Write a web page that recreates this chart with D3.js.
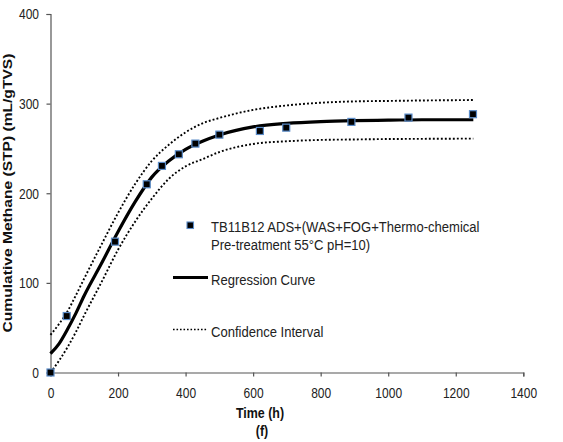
<!DOCTYPE html>
<html>
<head>
<meta charset="utf-8">
<script src="https://cdn.jsdelivr.net/npm/d3@7/dist/d3.min.js"></script>
<style>
  html, body { margin: 0; padding: 0; background: #fff; }
  svg { display: block; }
  text { font-family: 'Liberation Sans', Arial, sans-serif; }
</style>
</head>
<body>
<svg id="chart" width="563" height="442"></svg>
<script>
// Measured cumulative methane (mL/gTVS) against time (h)
const obsTime = [0, 48, 191, 285, 330, 380, 429, 500, 620, 698, 891, 1060, 1251];
const obsMethane = [0, 63, 146, 210, 230.5, 243.5, 255.4, 265.4, 269.5, 273.2, 279.6, 284.4, 288.2];

// Fitted regression curve and its confidence band, sampled along time
const fitTime  = [0, 25, 50, 75, 100, 150, 200, 250, 300, 350, 400, 450, 500, 600, 700, 800, 900, 1000, 1100, 1252];
const fitCurve = [21, 32, 48, 66, 86, 121, 157, 190, 218, 236, 249, 258, 265, 274, 278, 280, 281, 281.5, 282, 282];
const fitUpper = [42, 54, 68, 86, 105, 142, 178, 210, 236, 254, 268, 278, 284, 293, 298, 301, 302.5, 303, 303.5, 304];
const fitLower = [0, 13, 28, 45, 64, 100, 137, 168, 194, 216, 230, 238, 246, 255, 258, 259.5, 260, 260.5, 260.7, 261];

const xTicks = [0, 200, 400, 600, 800, 1000, 1200, 1400];
const yTicks = [0, 100, 200, 300, 400];

const legendLabels = [
  ["TB11B12 ADS+(WAS+FOG+Thermo-chemical", "Pre-treatment 55°C pH=10)"],
  ["Regression Curve"],
  ["Confidence Interval"]
];

const svg = d3.select("#chart");
const x = d3.scaleLinear().domain([0, 1400]).range([50.5, 523.3]);
const y = d3.scaleLinear().domain([0, 400]).range([372.5, 14]);

const axisColor = "#555";
const textColor = "#222";

// Condensed text: glyphs squeezed horizontally around their anchor
function label(parent, px, py, str, size, sx, opts = {}) {
  const t = parent.append("text")
    .attr("transform", `translate(${px},${py}) scale(${sx},1)`)
    .attr("fill", opts.fill || textColor)
    .style("font-size", size + "px")
    .text(str);
  if (opts.anchor) t.attr("text-anchor", opts.anchor);
  if (opts.bold) t.style("font-weight", "bold");
  return t;
}

function condenseTicks(g, sx) {
  g.selectAll(".tick text").each(function () {
    const t = d3.select(this);
    const tx = +t.attr("x") || 0, ty = +t.attr("y") || 0;
    t.attr("x", 0).attr("y", 0)
      .attr("transform", `translate(${tx},${ty}) scale(${sx},1)`)
      .attr("fill", textColor)
      .style("font-size", "15px")
      .style("font-family", "'Liberation Sans', Arial, sans-serif");
  });
}

// X axis
const gx = svg.append("g").attr("transform", `translate(0,${y(0)})`)
  .call(d3.axisBottom(x).tickValues(xTicks).tickSize(4).tickPadding(11).tickFormat(d3.format("d")));
// Y axis
const gy = svg.append("g").attr("transform", `translate(${x(0)},0)`)
  .call(d3.axisLeft(y).tickValues(yTicks).tickSize(4).tickPadding(7.5).tickFormat(d3.format("d")));

[gx, gy].forEach(g => {
  g.select(".domain").attr("stroke", axisColor).attr("stroke-width", 1.2);
  g.selectAll(".tick line").attr("stroke", axisColor).attr("stroke-width", 1.2);
  condenseTicks(g, 0.8);
});

// Lines
const line = (vals) => d3.line()
  .x((d, i) => x(fitTime[i]))
  .y(d => y(d))
  .curve(d3.curveMonotoneX)(vals);

svg.append("path").attr("d", line(fitUpper))
  .attr("fill", "none").attr("stroke", "#000").attr("stroke-width", 1.9)
  .attr("stroke-dasharray", "1.9,2.1");
svg.append("path").attr("d", line(fitLower))
  .attr("fill", "none").attr("stroke", "#000").attr("stroke-width", 1.9)
  .attr("stroke-dasharray", "1.9,2.1");
svg.append("path").attr("d", line(fitCurve))
  .attr("fill", "none").attr("stroke", "#000").attr("stroke-width", 3.2);

// Observed points
const ms = 7;
svg.append("g").selectAll("rect").data(obsTime).join("rect")
  .attr("x", (d) => x(d) - ms / 2)
  .attr("y", (d, i) => y(obsMethane[i]) - ms / 2)
  .attr("width", ms).attr("height", ms)
  .attr("fill", "#000").attr("stroke", "#5b8cc8").attr("stroke-width", 1.2);

// Legend
const lg = svg.append("g");
lg.append("rect").attr("x", 187).attr("y", 222).attr("width", 6.5).attr("height", 6.5)
  .attr("fill", "#000").attr("stroke", "#5b8cc8").attr("stroke-width", 1.1);
legendLabels[0].forEach((t, i) => label(lg, 211, 232 + i * 18, t, 14.5, 0.9));
lg.append("line").attr("x1", 173).attr("x2", 208).attr("y1", 277.5).attr("y2", 277.5)
  .attr("stroke", "#000").attr("stroke-width", 3.2);
label(lg, 211, 284.5, legendLabels[1][0], 14.5, 0.9);
lg.append("line").attr("x1", 173).attr("x2", 208).attr("y1", 329.5).attr("y2", 329.5)
  .attr("stroke", "#000").attr("stroke-width", 1.6).attr("stroke-dasharray", "1.6,1.9");
label(lg, 211, 336.5, legendLabels[2][0], 14.5, 0.9);

// Axis titles
label(svg, 260, 418, "Time (h)", 15, 0.83, { anchor: "middle", bold: true, fill: "#111" });
label(svg, 262, 436, "(f)", 15, 0.83, { anchor: "middle", bold: true, fill: "#111" });
svg.append("text")
  .attr("transform", "translate(12,193) rotate(-90) scale(1.2,1)")
  .attr("text-anchor", "middle")
  .style("font-size", "13px").style("font-weight", "bold").attr("fill", "#111")
  .text("Cumulative Methane (STP) (mL/gTVS)");
</script>
</body>
</html>
